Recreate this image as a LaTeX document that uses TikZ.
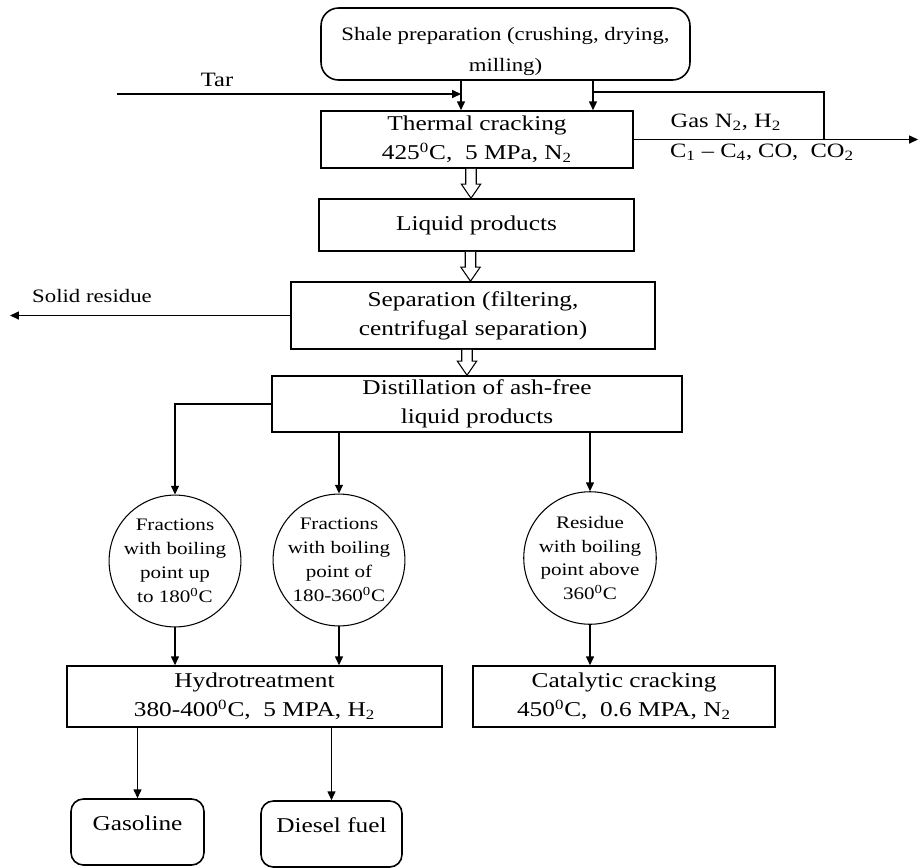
\documentclass[tikz,border=0pt]{standalone}
\usepackage{fontspec}
\setmainfont{Liberation Serif}[FakeStretch=1.2]
\usepackage{tikz}
\usetikzlibrary{calc}
\usetikzlibrary{positioning}
\usetikzlibrary{arrows.meta}

% wide open arrow between two stacked boxes
\newcommand{\hollowarrow}[2]{%
  \draw[line width=0.6pt,fill=white] let \p1=($(#1.south)+(-6, 0)$), \p2=(#2.north) in
    (\x1-3pt,\y1) -- (\x1-3pt,\y2+8pt) -- (\x1-5.5pt,\y2+8pt) -- (\x1,\y2)
    -- (\x1+5.5pt,\y2+8pt) -- (\x1+3pt,\y2+8pt) -- (\x1+3pt,\y1);}

\begin{document}
\begin{tikzpicture}[x=0.02cm, y=-0.02cm]
\tikzstyle{box}=[rectangle,align=center,draw,line width=0.9pt,inner sep=1pt,font=\fontsize{12}{16.5}\selectfont]
\tikzstyle{prepbox}=[box,rounded corners=10pt,minimum width=7.38cm,minimum height=1.44cm,inner ysep=0pt,text height=36pt,text depth=4.8pt,font=\fontsize{10.8}{17.6}\selectfont]
\tikzstyle{product}=[box,rounded corners=7pt,minimum width=2.66cm,minimum height=1.32cm,inner ysep=0pt,text height=17.6pt,text depth=19.8pt]
\tikzstyle{stage}=[circle,align=center,draw,line width=0.6pt,inner sep=0pt,minimum size=2.52cm,font=\fontsize{10}{13.6}\selectfont]
\tikzstyle{flow}=[line width=0.7pt,-{Triangle[length=5pt,width=4.5pt]}]
\tikzstyle{tag}=[inner sep=0pt,font=\fontsize{11.6}{14}\selectfont]

\useasboundingbox (0, 0) rectangle (920, 867);

\node[prepbox] at(505.5, 44) (prep) {Shale preparation (crushing, drying,\\milling)};
\node[box,minimum width=6.24cm,minimum height=1.14cm] at(477, 139.5) (crack) {Thermal cracking\\425\textsuperscript{0}C,~ 5 MPa, N\textsubscript{2}};
\node[box,minimum width=6.3cm,minimum height=1.04cm] at(476.5, 225) (liquid) {Liquid products};
\node[box,minimum width=7.28cm,minimum height=1.34cm] at(473, 315.5) (separ) {Separation (filtering,\\centrifugal separation)};
\node[box,minimum width=8.2cm,minimum height=1.12cm] at(477, 404) (distil) {Distillation of ash-free\\liquid products};

\node[stage] at(175, 561) (light) {Fractions\\with boiling\\point up\\to 180\textsuperscript{0}C};
\node[stage] at(339, 560) (middle) {Fractions\\with boiling\\point of\\180-360\textsuperscript{0}C};
\node[stage] at(590, 558) (heavy) {Residue\\with boiling\\point above\\360\textsuperscript{0}C};

\node[box,minimum width=7.5cm,minimum height=1.22cm] at(254.5, 696.5) (hydro) {Hydrotreatment\\380-400\textsuperscript{0}C,~ 5 MPA, H\textsubscript{2}};
\node[box,minimum width=6.04cm,minimum height=1.22cm] at(624, 696.5) (catal) {Catalytic cracking\\450\textsuperscript{0}C,~ 0.6 MPA, N\textsubscript{2}};
\node[product] at(137.5, 832) (petrol) {Gasoline};
\node[product,minimum width=2.82cm] at(331.5, 834) (diesel) {Diesel fuel};

% side streams
\node[tag] at(217, 80) (tar) {Tar};
\node[tag] at(726, 122) (gas) {Gas N\textsubscript{2}, H\textsubscript{2}};
\node[tag] at(762, 152) (gasmix) {C\textsubscript{1} -- C\textsubscript{4}, CO,~ CO\textsubscript{2}};
\node[tag,font=\fontsize{10.8}{14}\selectfont] at(92, 296) (solid) {Solid residue};

\coordinate (tarin) at(117, 94);
\coordinate (feed) at(461, 94);
\coordinate (back) at(593, 92);
\coordinate (recyc) at(824, 92);
\coordinate (gasout) at(918, 136);
\coordinate (solidout) at(10, 312);

\draw[flow] (tarin) -- (feed);
\draw[flow] (prep.south -| feed) -- (crack.north -| feed);
\draw[flow] (prep.south -| back) -- (crack.north -| back);
\draw[line width=0.7pt] (back) -- (recyc) -- (recyc |- crack.east);
\draw[flow] (crack.east) -- (crack.east -| gasout);

\hollowarrow{crack}{liquid}
\hollowarrow{liquid}{separ}
\hollowarrow{separ}{distil}

\draw[flow] (separ.west) -- (separ.west -| solidout);
\draw[flow] (distil.west) -- (distil.west -| light.north) -- (light.north);
\draw[flow] (distil.south -| middle.north) -- (middle.north);
\draw[flow] (distil.south -| heavy.north) -- (heavy.north);
\draw[flow] (light.south) -- (light.south |- hydro.north);
\draw[flow] (middle.south) -- (middle.south |- hydro.north);
\draw[flow] (heavy.south) -- (heavy.south |- catal.north);
\draw[flow] (hydro.south -| petrol.north) -- (petrol.north);
\draw[flow] (hydro.south -| diesel.north) -- (diesel.north);
\end{tikzpicture}
\end{document}
